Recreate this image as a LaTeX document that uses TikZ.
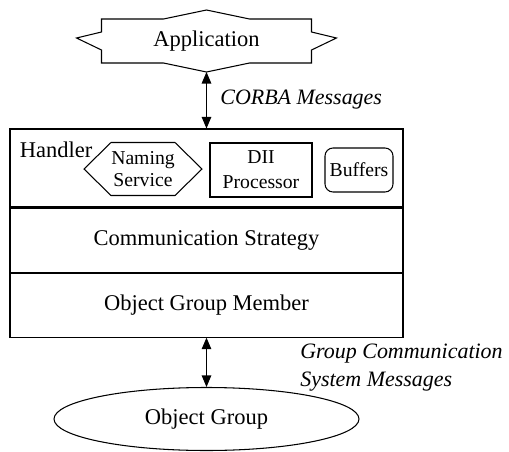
\documentclass[tikz,border=0pt]{standalone}
\usepackage{fontspec}
\setmainfont{Liberation Serif}
\usepackage{tikz}
\usetikzlibrary{positioning, arrows.meta, shapes.geometric}
\tikzset{
    layerbox/.style={rectangle, draw, line width=0.6pt, minimum width=7.86cm},
    partbox/.style={draw, line width=0.6pt, align=center, inner sep=1pt, font=\fontsize{11.2}{12.5}\selectfont},
    msglabel/.style={font=\fontsize{12.5}{15.5}\selectfont\itshape, align=left, anchor=west, inner sep=0pt},
    biarrow/.style={{Triangle[length=2.3mm,width=1.9mm]}-{Triangle[length=2.3mm,width=1.9mm]}, line width=0.6pt}
}

\begin{document}
\begin{tikzpicture}[font=\fontsize{12.8}{14}\selectfont]
    \useasboundingbox (0,0) rectangle (10.18,9.02);

    % application on top
    \node (app) at (4.13,8.2) {Application};
    \draw[line width=0.6pt, shift={(app.center)}]
        (-2.1,0.44) -- (-0.86,0.44) -- (0,0.62) -- (0.86,0.44) -- (2.1,0.44)
        -- (2.1,0.18) -- (2.6,0.06) -- (2.1,-0.18) -- (2.1,-0.44)
        -- (0.86,-0.44) -- (0,-0.62) -- (-0.86,-0.44) -- (-2.1,-0.44)
        -- (-2.1,-0.18) -- (-2.6,0.06) -- (-2.1,0.18) -- cycle;
    \coordinate (appS) at ([yshift=-0.62cm]app.center);

    % the layers
    \node[layerbox, minimum height=1.56cm] (handler) at (4.13,5.66) {};
    \node[layerbox, minimum height=1.28cm, below=0cm of handler] (strategy) {Communication Strategy};
    \node[layerbox, minimum height=1.28cm, below=0cm of strategy] (member) {Object Group Member};

    \node[anchor=north west, inner sep=0pt] (handlerlbl) at ([xshift=0.2cm,yshift=-0.27cm]handler.north west) {Handler};
    \node[partbox, draw=none] (naming) at (2.86,5.64) {Naming\\Service};
    \draw[line width=0.6pt, shift={(naming.center)}]
        (-1.18,0) -- (-0.64,0.53) -- (0.64,0.53) -- (1.18,0)
        -- (0.64,-0.53) -- (-0.64,-0.53) -- cycle;
    \node[partbox, minimum width=2.04cm, minimum height=1.08cm] (dii) at (5.22,5.62) {DII\\[1.6pt]Processor};
    \node[partbox, rounded corners=0.16cm, minimum width=1.36cm, minimum height=0.88cm] (buffers) at (7.18,5.62) {Buffers};

    % object group at the bottom
    \node[ellipse, draw, line width=0.6pt, minimum width=6.1cm, minimum height=1.26cm] (group) at (4.13,0.64) {Object Group};

    \draw[biarrow] (appS) -- (handler.north);
    \draw[biarrow] (member.south) -- (group.north);

    \node[msglabel] (corba) at (4.4,7.02) {CORBA Messages};
    \node[msglabel] (gcs) at (6.0,1.67) {Group Communication\\System Messages};
\end{tikzpicture}
\end{document}
